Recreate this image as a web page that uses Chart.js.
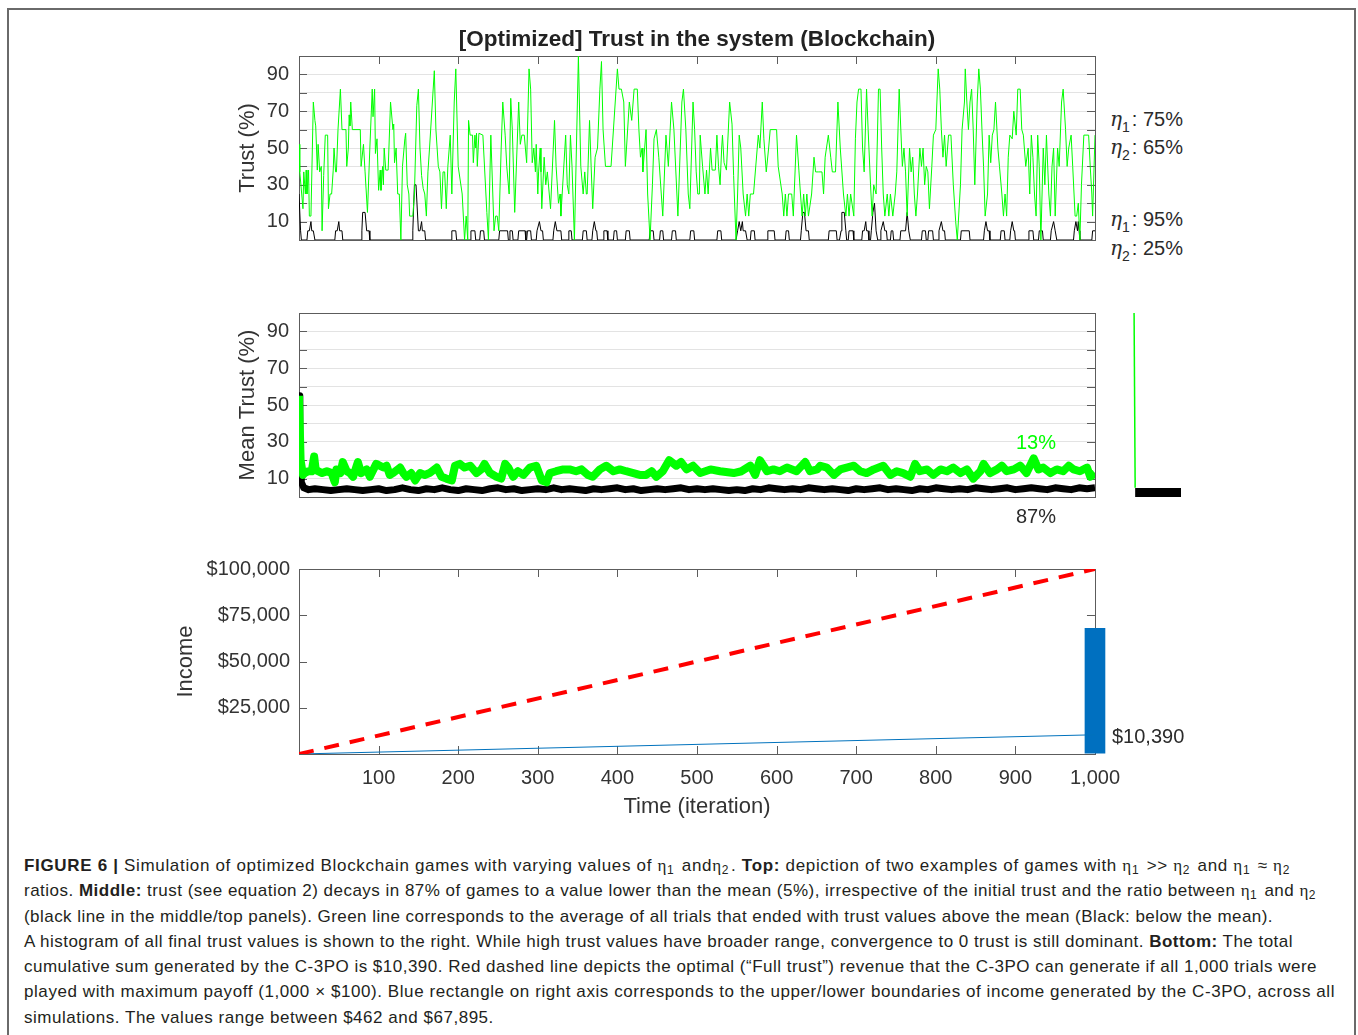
<!DOCTYPE html>
<html>
<head>
<meta charset="utf-8">
<script src="https://cdn.jsdelivr.net/npm/chart.js@4.4.1/dist/chart.umd.min.js"></script>
<style>
  html, body { margin: 0; padding: 0; background: #fff; width: 1358px; height: 1035px; overflow: hidden; }
  body { position: relative; font-family: "Liberation Sans", Arial, sans-serif; }
  canvas { position: absolute; }
  .frame { position: absolute; left: 7px; top: 8px; width: 1349px; height: 1100px; border: 2px solid #6a6a6a; box-sizing: border-box; }
  .note { position: absolute; font-size: 20px; line-height: 24px; color: #2b2b2b; white-space: nowrap; }
  .note .eta { font-family: "DejaVu Serif", "Liberation Serif", serif; font-style: italic; font-size: 20px; }
  .note sub { font-size: 14px; line-height: 0; vertical-align: -6px; margin-right: 2px; }
  .caption { position: absolute; left: 24px; top: 853px; font-size: 17px; line-height: 25.3px; color: #231f20; white-space: nowrap; }
  .caption > div { width: max-content; }
  .caption .g { font-family: "Liberation Serif", serif; }
  .caption sub { font-size: 12px; line-height: 0; vertical-align: -3px; padding-right: 2px; }
</style>
</head>
<body>
<div class="frame"></div>

<canvas id="topChart" width="900" height="240"></canvas>
<canvas id="meanChart" width="900" height="210"></canvas>
<canvas id="histChart" width="48" height="184" style="left:1133px; top:313px"></canvas>
<canvas id="incomeChart" width="980" height="290"></canvas>

<div class="note" style="left:1110px; top:107px"><span class="eta">η</span><sub>1</sub>: 75%</div>
<div class="note" style="left:1110px; top:135px"><span class="eta">η</span><sub>2</sub>: 65%</div>
<div class="note" style="left:1110px; top:207px"><span class="eta">η</span><sub>1</sub>: 95%</div>
<div class="note" style="left:1110px; top:236px"><span class="eta">η</span><sub>2</sub>: 25%</div>
<div class="note" style="left:1016px; top:430px; color:#00ff00">13%</div>
<div class="note" style="left:1016px; top:504px">87%</div>
<div class="note" style="left:1112px; top:724px">$10,390</div>

<div class="caption" id="caption">
  <div><b>FIGURE 6 |</b> Simulation of optimized Blockchain games with varying values of <span class="g">η</span><sub>1</sub> and<span class="g">η</span><sub>2</sub>. <b>Top:</b> depiction of two examples of games with <span class="g">η</span><sub>1</sub> &gt;&gt; <span class="g">η</span><sub>2</sub> and <span class="g">η</span><sub>1</sub> ≈ <span class="g">η</span><sub>2</sub></div>
  <div>ratios. <b>Middle:</b> trust (see equation 2) decays in 87% of games to a value lower than the mean (5%), irrespective of the initial trust and the ratio between <span class="g">η</span><sub>1</sub> and <span class="g">η</span><sub>2</sub></div>
  <div>(black line in the middle/top panels). Green line corresponds to the average of all trials that ended with trust values above the mean (Black: below the mean).</div>
  <div>A histogram of all final trust values is shown to the right. While high trust values have broader range, convergence to 0 trust is still dominant. <b>Bottom:</b> The total</div>
  <div>cumulative sum generated by the C-3PO is $10,390. Red dashed line depicts the optimal (“Full trust”) revenue that the C-3PO can generate if all 1,000 trials were</div>
  <div>played with maximum payoff (1,000 × $100). Blue rectangle on right axis corresponds to the upper/lower boundaries of income generated by the C-3PO, across all</div>
  <div>simulations. The values range between $462 and $67,895.</div>
</div>

<script>
// ---- data: [iteration, value] ----
const timeTicks = [100, 200, 300, 400, 500, 600, 700, 800, 900, 1000];

// top panel, game with eta1 75% / eta2 65% (green)
const trustHighRatio = [
  [0,52],[1,37],[5,17],[6,37],[8,25],[9,38],[10,25],[12,38],[13,13],[15,13],[18,75],[20,65],[21,62],[23,38],[24,52],
  [26,37],[28,40],[29,5],[31,35],[33,57],[36,57],[37,17],[39,25],[41,25],[43,38],[44,50],[46,37],[47,37],[49,60],
  [52,82],[54,60],[59,60],[60,40],[62,50],[63,68],[64,62],[65,75],[67,60],[77,60],[78,40],[81,52],[83,37],[86,15],
  [89,50],[92,82],[93,67],[95,82],[96,47],[98,55],[100,27],[102,38],[103,27],[105,40],[106,30],[107,50],[109,38],
  [112,38],[115,75],[118,60],[119,63],[120,42],[122,50],[124,25],[126,25],[128,0],[130,40],[133,55],[134,58],[136,30],
  [138,25],[139,13],[143,13],[145,25],[148,73],[150,82],[152,50],[154,35],[156,28],[158,25],[160,13],[162,37],[164,50],
  [170,92],[172,60],[175,40],[177,37],[179,17],[181,37],[183,37],[185,17],[187,40],[190,57],[192,25],[195,75],[197,93],
  [200,40],[205,25],[208,0],[210,13],[212,0],[213,65],[215,57],[218,57],[219,42],[221,57],[222,50],[223,58],[224,40],
  [226,58],[231,57],[236,15],[238,0],[241,57],[245,5],[247,13],[249,13],[251,5],[254,50],[256,75],[259,57],[261,40],
  [264,25],[266,77],[268,60],[271,15],[276,75],[278,52],[280,57],[283,57],[286,42],[289,93],[291,82],[293,42],[295,50],
  [297,37],[298,52],[300,25],[301,37],[303,50],[304,37],[305,17],[308,45],[310,30],[312,37],[316,17],[321,65],[323,40],
  [326,20],[328,25],[329,13],[335,57],[337,30],[339,25],[341,57],[343,40],[344,40],[346,0],[351,100],[354,40],[357,25],
  [359,37],[361,25],[362,25],[365,65],[367,40],[369,17],[372,45],[375,50],[378,82],[380,97],[382,60],[385,40],[392,40],
  [400,93],[402,82],[405,82],[408,75],[410,40],[415,75],[418,65],[421,82],[425,82],[427,60],[429,45],[431,50],[432,37],
  [436,60],[438,25],[441,0],[444,30],[446,55],[449,60],[452,45],[457,13],[461,57],[464,40],[468,75],[471,60],[476,13],
  [481,75],[483,82],[486,60],[489,25],[491,17],[495,75],[497,60],[499,37],[501,25],[503,25],[504,57],[507,40],[510,25],
  [512,38],[514,25],[517,50],[519,38],[523,38],[525,57],[527,40],[529,30],[531,50],[532,57],[534,42],[537,38],[541,75],
  [544,63],[546,35],[549,0],[551,25],[553,57],[555,50],[558,25],[561,13],[563,25],[565,13],[567,25],[571,25],[577,57],
  [579,50],[582,75],[584,55],[587,37],[590,50],[592,60],[600,60],[602,40],[607,25],[609,13],[611,25],[613,13],[615,25],
  [619,25],[621,13],[625,57],[628,38],[630,25],[632,13],[634,25],[636,13],[638,25],[640,13],[644,25],[647,45],[649,37],
  [653,37],[657,37],[659,25],[661,45],[665,57],[668,45],[670,37],[674,37],[677,75],[680,50],[684,25],[687,13],[689,25],
  [691,13],[693,25],[697,13],[699,55],[701,75],[703,82],[706,82],[708,50],[710,37],[713,82],[715,60],[718,30],[720,13],
  [722,30],[725,25],[728,82],[730,82],[732,50],[734,25],[736,13],[739,25],[741,13],[743,25],[746,13],[749,25],[751,37],
  [754,82],[757,50],[758,40],[760,50],[762,37],[764,13],[767,50],[769,37],[771,45],[773,25],[775,13],[777,25],[780,50],
  [782,40],[784,50],[786,30],[788,40],[790,37],[792,17],[795,40],[797,57],[800,60],[803,93],[805,82],[807,60],[809,45],
  [811,57],[813,40],[816,57],[819,57],[822,30],[825,10],[827,0],[831,30],[833,60],[836,75],[837,93],[839,75],[841,60],
  [843,75],[845,82],[847,60],[849,30],[852,75],[854,93],[856,82],[858,60],[860,40],[862,13],[865,25],[867,57],[869,42],
  [871,57],[873,60],[875,75],[878,50],[880,40],[883,25],[885,13],[887,25],[889,13],[891,45],[893,57],[896,55],[898,70],
  [901,57],[903,82],[906,82],[908,60],[910,57],[913,40],[916,50],[918,25],[920,57],[922,45],[924,25],[926,13],[928,57],
  [930,40],[932,0],[935,50],[937,30],[939,57],[942,25],[944,13],[946,40],[948,50],[950,13],[953,50],[955,40],[958,75],
  [960,82],[963,60],[965,40],[967,50],[970,57],[972,40],[975,13],[977,13],[979,20],[981,0],[983,30],[986,57],[990,57],
  [992,57],[994,40],[996,25],[997,13],[1000,57]
];

// top panel, game with eta1 95% / eta2 25% (black)
const trustLowRatio = [
  [0,25],[2,5],[3,0],[10,0],[11,5],[13,5],[15,10],[16,5],[18,5],[20,0],[45,0],[46,5],[48,5],[50,10],[51,5],[54,5],[55,0],
  [78,0],[79,5],[80,15],[83,15],[85,5],[88,5],[89,0],[142,0],[143,5],[145,30],[147,30],[150,5],[152,5],[154,10],[155,5],
  [158,5],[159,0],[191,0],[192,5],[197,5],[198,0],[215,0],[216,5],[221,5],[222,0],[227,0],[228,5],[232,5],[233,0],
  [251,0],[252,5],[262,5],[263,0],[264,0],[265,5],[268,5],[269,0],[275,0],[276,5],[284,5],[285,0],[286,0],[287,5],
  [291,5],[292,0],[298,0],[299,5],[302,10],[304,5],[306,5],[307,0],[319,0],[320,5],[322,10],[324,5],[329,5],[330,0],
  [338,0],[339,5],[342,5],[343,0],[356,0],[357,5],[361,5],[362,0],[368,0],[369,5],[371,10],[373,5],[374,5],[375,0],
  [382,0],[383,5],[387,5],[388,0],[395,0],[396,5],[399,5],[400,0],[410,0],[411,5],[415,5],[416,0],[440,0],[441,5],
  [445,5],[446,0],[453,0],[454,5],[457,5],[458,0],[468,0],[469,5],[473,5],[474,0],[491,0],[492,5],[496,5],[497,0],
  [525,0],[526,5],[530,5],[531,0],[549,0],[551,5],[553,10],[555,5],[557,10],[558,5],[561,5],[563,0],[567,0],[568,5],
  [572,5],[573,0],[588,0],[589,5],[597,5],[598,0],[611,0],[612,5],[615,5],[616,0],[630,0],[631,5],[633,15],[635,15],
  [637,5],[640,5],[641,0],[665,0],[666,5],[675,5],[676,0],[679,0],[681,5],[682,15],[685,15],[687,5],[688,0],[690,0],
  [691,5],[696,5],[697,0],[707,0],[708,5],[710,5],[712,10],[713,5],[715,5],[716,0],[718,0],[719,5],[721,15],[723,20],
  [725,5],[726,5],[727,0],[730,0],[731,5],[734,10],[736,5],[738,5],[739,0],[743,0],[744,5],[746,5],[747,0],[755,0],
  [756,5],[760,5],[762,5],[764,15],[766,5],[768,0],[782,0],[783,5],[787,5],[788,0],[790,0],[791,5],[796,5],[797,0],
  [803,0],[804,5],[807,10],[809,5],[811,5],[812,0],[831,0],[832,5],[842,5],[843,0],[860,0],[861,5],[863,10],[865,5],
  [867,5],[868,0],[881,0],[882,5],[886,5],[887,0],[893,0],[894,5],[896,10],[898,5],[899,5],[900,0],[916,0],[917,5],
  [922,5],[923,0],[929,0],[930,5],[934,5],[935,0],[944,0],[945,5],[948,10],[950,5],[951,5],[952,0],[973,0],[974,5],
  [976,10],[978,5],[979,10],[980,5],[981,0],[996,0],[997,5],[1000,5]
];

// middle panel: mean trust of trials ending above the mean (green) and below it (black)
const meanTrustAbove = [
  [0,55],[2,20],[5,12],[7,13],[12,14],[16,14],[19,22],[21,15],[24,14],[29,13],[35,14],[41,13],[45,8],[47,15],[52,13],
  [55,19],[60,14],[64,13],[68,11],[74,19],[78,13],[85,15],[89,11],[97,18],[106,16],[110,17],[114,12],[118,13],[127,16],
  [131,13],[135,11],[141,13],[146,9],[152,13],[158,12],[164,13],[173,16],[179,11],[185,10],[192,9],[196,17],[202,18],
  [208,16],[215,17],[223,13],[229,15],[233,18],[240,13],[248,11],[254,10],[259,18],[263,16],[269,11],[275,14],[282,12],
  [290,16],[298,17],[305,9],[311,8],[315,13],[323,14],[332,15],[340,15],[348,14],[355,15],[363,12],[369,11],[378,15],
  [386,17],[395,14],[403,15],[411,14],[420,13],[428,12],[436,12],[443,14],[449,11],[457,14],[465,20],[474,17],[480,19],
  [487,15],[495,17],[504,13],[517,15],[529,14],[546,13],[556,14],[567,17],[573,12],[579,20],[588,14],[596,15],[604,14],
  [613,16],[625,14],[636,19],[642,14],[651,15],[655,17],[663,16],[672,12],[680,15],[688,16],[697,17],[705,14],[713,13],
  [722,15],[734,17],[743,12],[751,14],[759,13],[768,11],[774,18],[780,14],[789,15],[797,12],[806,15],[814,14],[822,16],
  [831,13],[839,15],[847,10],[856,14],[860,18],[868,13],[877,15],[883,17],[889,14],[898,15],[906,17],[914,13],[923,21],
  [929,15],[935,16],[944,13],[952,15],[960,14],[967,17],[973,15],[981,14],[990,16],[994,11],[1000,13]
];
const meanTrustBelow = [
  [0,55],[1,30],[3,8],[6,5],[12,4],[20,4.5],[30,4],[40,3.5],[50,4],[60,4.5],[70,4],[80,3.5],[90,4],[100,4.5],[110,3.5],
  [120,4],[130,5],[140,4],[150,3.5],[160,4.5],[170,4],[180,5],[190,4],[200,3.5],[210,4.5],[220,4],[230,3.5],[240,4.5],
  [250,5],[260,4],[270,4.5],[280,3.5],[290,4],[300,4.5],[310,4],[320,5],[330,4],[340,4.5],[350,4],[360,3.5],[370,4.5],
  [380,4],[390,4.5],[400,5],[410,4],[420,4.5],[430,3.5],[440,4],[450,4.5],[460,4],[470,4.5],[480,5],[490,4],[500,4.5],
  [510,4],[520,4.5],[530,4],[540,3.5],[550,4],[560,3.5],[570,4.5],[580,4],[590,5],[600,4.5],[610,4],[620,4.5],[630,4],
  [640,5],[650,4.5],[660,4],[670,4.5],[680,4],[690,3.5],[700,4.5],[710,4],[720,4.5],[730,5],[740,4],[750,4.5],[760,4],
  [770,3.5],[780,4.5],[790,4],[800,5],[810,4.5],[820,4],[830,4.5],[840,4],[850,5],[860,4.5],[870,4],[880,4.5],[890,5],
  [900,4],[910,4.5],[920,5],[930,4.5],[940,4],[950,5],[960,4.5],[970,4],[980,5],[990,4.5],[1000,5]
];

// histogram of final trust: [share of trials, trust]
const histHigh = [[0,100],[2,5]];
const histLow = [[2,2.5],[87,2.5]];

// bottom panel: cumulative income
const fullTrustIncome = [[0,0],[1000,100000]];
const c3poIncome = [[0,0],[1000,10390]];
const incomeRange = [462, 67895];

// ---- helpers ----
Chart.defaults.font.family = '"Liberation Sans", Arial, sans-serif';
Chart.defaults.color = '#333';
const pts = arr => arr.map(p => ({ x: p[0], y: p[1] }));
const tickFont = { size: 20, lineHeight: 1.2 };
const titleFont = { size: 22, lineHeight: 1.2 };

const axesBox = {
  id: 'axesBox',
  beforeDatasetsDraw(chart, args, opts) {
    const { ctx, chartArea: a } = chart;
    const x = chart.scales.x, y = chart.scales.y;
    const L = 8;
    ctx.save();
    ctx.strokeStyle = '#5c5c5c';
    ctx.lineWidth = 1;
    ctx.strokeRect(Math.round(a.left) + 0.5, Math.round(a.top) + 0.5, Math.round(a.width), Math.round(a.height));
    ctx.beginPath();
    (opts.xTicks || []).forEach(v => {
      if (v >= x.max) return;
      const px = Math.round(x.getPixelForValue(v)) + 0.5;
      if (opts.top) { ctx.moveTo(px, a.top); ctx.lineTo(px, a.top + L); }
      if (opts.bottom) { ctx.moveTo(px, a.bottom); ctx.lineTo(px, a.bottom - L); }
    });
    y.ticks.forEach(t => {
      if (t.value <= y.min || t.value >= y.max) return;
      const py = Math.round(y.getPixelForValue(t.value)) + 0.5;
      ctx.moveTo(a.left, py); ctx.lineTo(a.left + L, py);
      ctx.moveTo(a.right, py); ctx.lineTo(a.right - L, py);
    });
    ctx.stroke();
    ctx.restore();
  }
};

function placePanel(chart, left, top, width, height) {
  const a = chart.chartArea;
  chart.resize(chart.width + width - (a.right - a.left), chart.height + height - (a.bottom - a.top));
  const b = chart.chartArea;
  chart.canvas.style.left = (left - b.left) + 'px';
  chart.canvas.style.top = (top - b.top) + 'px';
}

function trustAxis(title) {
  return {
    min: 0, max: 100,
    ticks: { stepSize: 10, autoSkip: false, padding: 10, font: tickFont, color: '#333',
             callback: v => (v % 20 === 10 ? v : '') },
    grid: { color: '#e3e3e3', drawTicks: false },
    border: { display: false },
    title: { display: true, text: title, font: titleFont, color: '#333', padding: { top: 4, bottom: 0 } },
    afterFit: s => { s.width = 68; }
  };
}

const base = { responsive: false, maintainAspectRatio: false, animation: false, events: [] };

// ---- top panel ----
const topChart = new Chart(document.getElementById('topChart'), {
  type: 'line',
  data: { datasets: [
    { data: pts(trustHighRatio), borderColor: '#00ff00', borderWidth: 1, pointRadius: 0, tension: 0 },
    { data: pts(trustLowRatio), borderColor: '#000000', borderWidth: 1, pointRadius: 0, tension: 0 }
  ]},
  options: Object.assign({}, base, {
    layout: { padding: { left: 0, right: 6, top: 0, bottom: 0 } },
    plugins: {
      legend: { display: false }, tooltip: { enabled: false },
      title: { display: true, text: '[Optimized] Trust in the system (Blockchain)', fullSize: false,
               font: { size: 22.5, weight: 'bold', lineHeight: 1.2 }, color: '#222', padding: { top: 0, bottom: 3 } },
      axesBox: { xTicks: timeTicks, top: true, bottom: false }
    },
    scales: {
      x: { type: 'linear', min: 0, max: 1000, display: false },
      y: trustAxis('Trust (%)')
    }
  }),
  plugins: [axesBox]
});
placePanel(topChart, 299, 56, 796, 184);

// ---- middle panel ----
const meanChart = new Chart(document.getElementById('meanChart'), {
  type: 'line',
  data: { datasets: [
    { data: pts(meanTrustAbove), borderColor: '#00ff00', borderWidth: 8, pointRadius: 0, tension: 0, borderJoinStyle: 'round' },
    { data: pts(meanTrustBelow), borderColor: '#000000', borderWidth: 7, pointRadius: 0, tension: 0, borderJoinStyle: 'round' }
  ]},
  options: Object.assign({}, base, {
    layout: { padding: { left: 0, right: 6, top: 0, bottom: 0 } },
    plugins: { legend: { display: false }, tooltip: { enabled: false }, axesBox: { xTicks: [], top: false, bottom: false } },
    scales: {
      x: { type: 'linear', min: 0, max: 1000, display: false },
      y: trustAxis('Mean Trust (%)')
    }
  }),
  plugins: [axesBox]
});
placePanel(meanChart, 299, 313, 796, 184);

// ---- histogram of final trust (right of middle panel), canvas sized to its plot area ----
new Chart(document.getElementById('histChart'), {
  type: 'line',
  data: { datasets: [
    { data: pts(histHigh), borderColor: '#00ff00', borderWidth: 1.5, pointRadius: 0, tension: 0 },
    { data: pts(histLow), borderColor: '#000000', borderWidth: 9, pointRadius: 0, tension: 0, borderCapStyle: 'butt' }
  ]},
  options: Object.assign({}, base, {
    layout: { padding: 0 },
    plugins: { legend: { display: false }, tooltip: { enabled: false } },
    scales: {
      x: { type: 'linear', min: -2, max: 87, display: false },
      y: { min: 0, max: 100, display: false }
    }
  })
});

// ---- bottom panel ----
const incomeChart = new Chart(document.getElementById('incomeChart'), {
  type: 'line',
  data: { datasets: [
    { data: pts(fullTrustIncome), borderColor: '#ff0000', borderWidth: 4, borderDash: [15, 11], pointRadius: 0 },
    { data: pts(c3poIncome), borderColor: '#0072bd', borderWidth: 1, pointRadius: 0 },
    { type: 'bar', data: [{ x: 1000, y: incomeRange }], backgroundColor: '#0070c0', barThickness: 20, clip: false }
  ]},
  options: Object.assign({}, base, {
    layout: { padding: { left: 0, right: 34, top: 16, bottom: 0 } },
    plugins: { legend: { display: false }, tooltip: { enabled: false },
               axesBox: { xTicks: timeTicks, top: true, bottom: true } },
    scales: {
      x: {
        type: 'linear', min: 0, max: 1000, offset: false,
        ticks: { stepSize: 100, autoSkip: false, maxRotation: 0, padding: 12, font: tickFont, color: '#333',
                 callback: v => (v === 0 ? '' : v.toLocaleString('en-US')) },
        grid: { display: false, drawTicks: false },
        border: { display: false },
        title: { display: true, text: 'Time (iteration)', font: titleFont, color: '#333', padding: { top: 0, bottom: 4 } },
        afterFit: s => { s.height = 70; }
      },
      y: {
        min: 0, max: 100000,
        ticks: { stepSize: 25000, autoSkip: false, padding: 9, font: tickFont, color: '#333',
                 callback: v => (v === 0 ? '' : '$' + v.toLocaleString('en-US')) },
        grid: { display: false, drawTicks: false },
        border: { display: false },
        title: { display: true, text: 'Income', font: titleFont, color: '#333', padding: { top: 4, bottom: 0 } },
        afterFit: s => { s.width = 130; }
      }
    }
  }),
  plugins: [axesBox]
});
placePanel(incomeChart, 299, 569, 796, 185);

// caption: stretch each printed line to the width it has in the figure
const capLineEnds = [1292, 1318, 1273, 1293, 1317, 1335];
const capLines = Array.from(document.querySelectorAll('#caption > div'));
const spacings = [];
capLines.forEach((ln, i) => {
  if (i >= capLineEnds.length) return;
  const w = ln.getBoundingClientRect().width;
  const s = (capLineEnds[i] - 24 - w) / ln.textContent.trim().length;
  spacings.push(s);
  ln.style.letterSpacing = s + 'px';
});
const avgSpacing = spacings.reduce((a, b) => a + b, 0) / spacings.length;
capLines.slice(capLineEnds.length).forEach(ln => { ln.style.letterSpacing = avgSpacing + 'px'; });
</script>
</body>
</html>
